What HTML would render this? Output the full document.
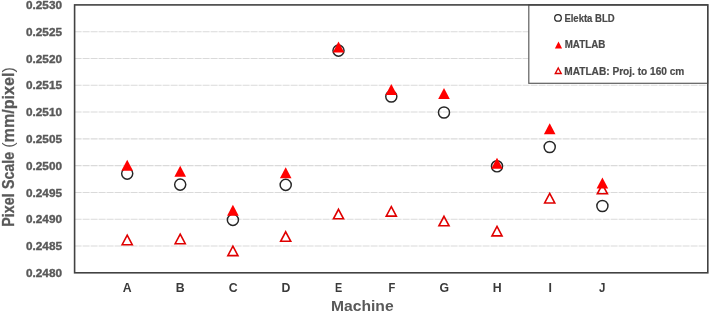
<!DOCTYPE html><html><head><meta charset="utf-8"><style>html,body{margin:0;padding:0;background:#fff;}body{width:709px;height:313px;overflow:hidden;}svg{display:block;filter:blur(0.4px);}text{font-family:"Liberation Sans",Arial,sans-serif;font-weight:bold;}</style></head><body>
<svg width="709" height="313" viewBox="0 0 709 313">
<line x1="74.6" y1="31.69" x2="707.8" y2="31.69" stroke="#dadada" stroke-width="1.1" stroke-dasharray="7,1"/>
<line x1="74.6" y1="58.48" x2="707.8" y2="58.48" stroke="#dadada" stroke-width="1.1" stroke-dasharray="7,1"/>
<line x1="74.6" y1="85.27" x2="707.8" y2="85.27" stroke="#dadada" stroke-width="1.1" stroke-dasharray="7,1"/>
<line x1="74.6" y1="112.06" x2="707.8" y2="112.06" stroke="#dadada" stroke-width="1.1" stroke-dasharray="7,1"/>
<line x1="74.6" y1="138.85" x2="707.8" y2="138.85" stroke="#dadada" stroke-width="1.1" stroke-dasharray="7,1"/>
<line x1="74.6" y1="165.64" x2="707.8" y2="165.64" stroke="#dadada" stroke-width="1.1" stroke-dasharray="7,1"/>
<line x1="74.6" y1="192.43" x2="707.8" y2="192.43" stroke="#dadada" stroke-width="1.1" stroke-dasharray="7,1"/>
<line x1="74.6" y1="219.22" x2="707.8" y2="219.22" stroke="#dadada" stroke-width="1.1" stroke-dasharray="7,1"/>
<line x1="74.6" y1="246.01" x2="707.8" y2="246.01" stroke="#dadada" stroke-width="1.1" stroke-dasharray="7,1"/>
<text x="62" y="9.10" font-size="10.6" fill="#595959" stroke="#595959" stroke-width="0.35" text-anchor="end" textLength="36" lengthAdjust="spacingAndGlyphs">0.2530</text>
<text x="62" y="35.89" font-size="10.6" fill="#595959" stroke="#595959" stroke-width="0.35" text-anchor="end" textLength="36" lengthAdjust="spacingAndGlyphs">0.2525</text>
<text x="62" y="62.68" font-size="10.6" fill="#595959" stroke="#595959" stroke-width="0.35" text-anchor="end" textLength="36" lengthAdjust="spacingAndGlyphs">0.2520</text>
<text x="62" y="89.47" font-size="10.6" fill="#595959" stroke="#595959" stroke-width="0.35" text-anchor="end" textLength="36" lengthAdjust="spacingAndGlyphs">0.2515</text>
<text x="62" y="116.26" font-size="10.6" fill="#595959" stroke="#595959" stroke-width="0.35" text-anchor="end" textLength="36" lengthAdjust="spacingAndGlyphs">0.2510</text>
<text x="62" y="143.05" font-size="10.6" fill="#595959" stroke="#595959" stroke-width="0.35" text-anchor="end" textLength="36" lengthAdjust="spacingAndGlyphs">0.2505</text>
<text x="62" y="169.84" font-size="10.6" fill="#595959" stroke="#595959" stroke-width="0.35" text-anchor="end" textLength="36" lengthAdjust="spacingAndGlyphs">0.2500</text>
<text x="62" y="196.63" font-size="10.6" fill="#595959" stroke="#595959" stroke-width="0.35" text-anchor="end" textLength="36" lengthAdjust="spacingAndGlyphs">0.2495</text>
<text x="62" y="223.42" font-size="10.6" fill="#595959" stroke="#595959" stroke-width="0.35" text-anchor="end" textLength="36" lengthAdjust="spacingAndGlyphs">0.2490</text>
<text x="62" y="250.21" font-size="10.6" fill="#595959" stroke="#595959" stroke-width="0.35" text-anchor="end" textLength="36" lengthAdjust="spacingAndGlyphs">0.2485</text>
<text x="62" y="277.00" font-size="10.6" fill="#595959" stroke="#595959" stroke-width="0.35" text-anchor="end" textLength="36" lengthAdjust="spacingAndGlyphs">0.2480</text>
<text x="127.1" y="291.9" font-size="12.3" fill="#3a3a3a" text-anchor="middle">A</text>
<text x="180.3" y="291.9" font-size="12.3" fill="#3a3a3a" text-anchor="middle">B</text>
<text x="233.2" y="291.9" font-size="12.3" fill="#3a3a3a" text-anchor="middle">C</text>
<text x="285.9" y="291.9" font-size="12.3" fill="#3a3a3a" text-anchor="middle">D</text>
<text x="338.7" y="291.9" font-size="12.3" fill="#3a3a3a" text-anchor="middle" textLength="7.2" lengthAdjust="spacingAndGlyphs">E</text>
<text x="391.8" y="291.9" font-size="12.3" fill="#3a3a3a" text-anchor="middle" textLength="6.8" lengthAdjust="spacingAndGlyphs">F</text>
<text x="444.3" y="291.9" font-size="12.3" fill="#3a3a3a" text-anchor="middle">G</text>
<text x="497.1" y="291.9" font-size="12.3" fill="#3a3a3a" text-anchor="middle">H</text>
<text x="550.2" y="291.9" font-size="12.3" fill="#3a3a3a" text-anchor="middle">I</text>
<text x="602.3" y="291.9" font-size="12.3" fill="#3a3a3a" text-anchor="middle" textLength="6.4" lengthAdjust="spacingAndGlyphs">J</text>
<text x="331.0" y="311.2" font-size="13.8" fill="#595959" textLength="62.6" lengthAdjust="spacingAndGlyphs">Machine</text>
<text transform="translate(13.9,226.7) rotate(-90)" x="0" y="0" font-size="16" fill="#595959" stroke="#595959" stroke-width="0.3" textLength="33.4" lengthAdjust="spacingAndGlyphs">Pixel</text>
<text transform="translate(13.9,189.0) rotate(-90)" x="0" y="0" font-size="16" fill="#595959" stroke="#595959" stroke-width="0.3" textLength="37.0" lengthAdjust="spacingAndGlyphs">Scale</text>
<text transform="translate(13.9,147.8) rotate(-90)" x="0" y="0" font-size="16" fill="#595959" stroke="#595959" stroke-width="0.3" textLength="80.6" lengthAdjust="spacingAndGlyphs"><tspan font-weight="normal" stroke-width="0">(</tspan>mm/pixel<tspan font-weight="normal" stroke-width="0">)</tspan></text>
<rect x="528.8" y="4.9" width="178.8" height="78.4" fill="#fff" stroke="#5e5e5e" stroke-width="1.2"/>
<rect x="74.6" y="4.9" width="633.1999999999999" height="267.90000000000003" fill="none" stroke="#424242" stroke-width="1.6"/>
<path d="M127.20,235.18 L132.25,244.68 L122.15,244.68 Z" fill="none" stroke="#e00000" stroke-width="1.6" stroke-linejoin="miter"/>
<path d="M180.20,234.18 L185.25,243.68 L175.15,243.68 Z" fill="none" stroke="#e00000" stroke-width="1.6" stroke-linejoin="miter"/>
<path d="M232.90,246.08 L237.95,255.58 L227.85,255.58 Z" fill="none" stroke="#e00000" stroke-width="1.6" stroke-linejoin="miter"/>
<path d="M285.70,231.78 L290.75,241.28 L280.65,241.28 Z" fill="none" stroke="#e00000" stroke-width="1.6" stroke-linejoin="miter"/>
<path d="M338.50,209.28 L343.55,218.78 L333.45,218.78 Z" fill="none" stroke="#e00000" stroke-width="1.6" stroke-linejoin="miter"/>
<path d="M391.30,206.58 L396.35,216.08 L386.25,216.08 Z" fill="none" stroke="#e00000" stroke-width="1.6" stroke-linejoin="miter"/>
<path d="M444.00,216.28 L449.05,225.78 L438.95,225.78 Z" fill="none" stroke="#e00000" stroke-width="1.6" stroke-linejoin="miter"/>
<path d="M497.00,226.38 L502.05,235.88 L491.95,235.88 Z" fill="none" stroke="#e00000" stroke-width="1.6" stroke-linejoin="miter"/>
<path d="M549.70,193.47 L554.75,202.97 L544.65,202.97 Z" fill="none" stroke="#e00000" stroke-width="1.6" stroke-linejoin="miter"/>
<path d="M602.40,184.28 L607.45,193.78 L597.35,193.78 Z" fill="none" stroke="#e00000" stroke-width="1.6" stroke-linejoin="miter"/>
<circle cx="127.20" cy="173.60" r="5.55" fill="none" stroke="#262626" stroke-width="1.45"/>
<circle cx="180.20" cy="184.60" r="5.55" fill="none" stroke="#262626" stroke-width="1.45"/>
<circle cx="232.90" cy="219.90" r="5.55" fill="none" stroke="#262626" stroke-width="1.45"/>
<circle cx="285.70" cy="184.90" r="5.55" fill="none" stroke="#262626" stroke-width="1.45"/>
<circle cx="338.50" cy="50.60" r="5.55" fill="none" stroke="#262626" stroke-width="1.45"/>
<circle cx="391.30" cy="96.50" r="5.55" fill="none" stroke="#262626" stroke-width="1.45"/>
<circle cx="444.00" cy="112.50" r="5.55" fill="none" stroke="#262626" stroke-width="1.45"/>
<circle cx="497.00" cy="166.30" r="5.55" fill="none" stroke="#262626" stroke-width="1.45"/>
<circle cx="549.70" cy="147.00" r="5.55" fill="none" stroke="#262626" stroke-width="1.45"/>
<circle cx="602.40" cy="206.00" r="5.55" fill="none" stroke="#262626" stroke-width="1.45"/>
<path d="M127.20,159.80 L133.00,170.80 L121.40,170.80 Z" fill="#ff0000"/>
<path d="M180.20,165.70 L186.00,176.70 L174.40,176.70 Z" fill="#ff0000"/>
<path d="M232.90,204.80 L238.70,215.80 L227.10,215.80 Z" fill="#ff0000"/>
<path d="M285.70,167.30 L291.50,178.30 L279.90,178.30 Z" fill="#ff0000"/>
<path d="M338.50,41.40 L344.30,52.40 L332.70,52.40 Z" fill="#ff0000"/>
<path d="M391.30,83.90 L397.10,94.90 L385.50,94.90 Z" fill="#ff0000"/>
<path d="M444.00,88.10 L449.80,99.10 L438.20,99.10 Z" fill="#ff0000"/>
<path d="M497.00,157.80 L502.80,168.80 L491.20,168.80 Z" fill="#ff0000"/>
<path d="M549.70,123.20 L555.50,134.20 L543.90,134.20 Z" fill="#ff0000"/>
<path d="M602.40,177.60 L608.20,188.60 L596.60,188.60 Z" fill="#ff0000"/>
<circle cx="558.00" cy="17.90" r="3.3" fill="none" stroke="#262626" stroke-width="1.25"/>
<text x="564.4" y="21.7" font-size="10" fill="#4a4a4a" stroke="#4a4a4a" stroke-width="0.2" textLength="50.2" lengthAdjust="spacingAndGlyphs">Elekta BLD</text>
<path d="M558.50,41.60 L562.10,48.40 L554.90,48.40 Z" fill="#ff0000"/>
<text x="564.7" y="48.2" font-size="10" fill="#4a4a4a" stroke="#4a4a4a" stroke-width="0.2" textLength="40.6" lengthAdjust="spacingAndGlyphs">MATLAB</text>
<path d="M558.25,68.02 L561.20,73.52 L555.30,73.52 Z" fill="none" stroke="#e00000" stroke-width="1.4" stroke-linejoin="miter"/>
<text x="564.3" y="74.5" font-size="10" fill="#4a4a4a" stroke="#4a4a4a" stroke-width="0.2" textLength="120" lengthAdjust="spacingAndGlyphs">MATLAB: Proj. to 160 cm</text>
</svg></body></html>
